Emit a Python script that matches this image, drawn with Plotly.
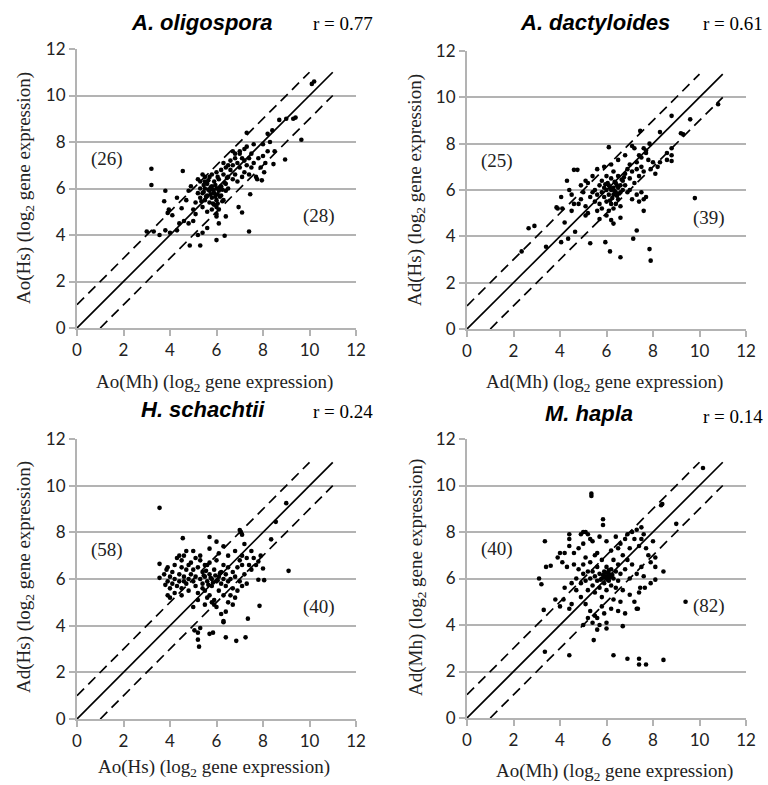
import plotly.graph_objects as go

# ---------------- data ----------------
titles = ["A. oligospora", "A. dactyloides", "H. schachtii", "M. hapla"]
r_values = ["r = 0.77", "r = 0.61", "r = 0.24", "r = 0.14"]
x_titles = ["Ao(Mh) (log<sub>2</sub> gene expression)", "Ad(Mh) (log<sub>2</sub> gene expression)",
            "Ao(Hs) (log<sub>2</sub> gene expression)", "Ao(Mh) (log<sub>2</sub> gene expression)"]
y_titles = ["Ao(Hs) (log<sub>2</sub> gene expression)", "Ad(Hs) (log<sub>2</sub> gene expression)",
            "Ad(Hs) (log<sub>2</sub> gene expression)", "Ad(Mh) (log<sub>2</sub> gene expression)"]
counts_above = ["(26)", "(25)", "(58)", "(40)"]
counts_below = ["(28)", "(39)", "(40)", "(82)"]
tick_vals = [0, 2, 4, 6, 8, 10, 12]
diag_x = [0, 11]          # extent of the identity line
fold_offsets = [1, -1]    # 2-fold (log2 = 1) boundaries

p1 = [(10.2,10.6),(10.1,10.5),(9.3,9.0),(9.4,9.05),(8.7,8.95),(9.0,9.0),(9.65,8.1),(8.95,7.25),(8.2,8.35),(8.4,8.5),
      (7.3,8.4),(7.6,7.9),(8.0,7.9),(8.3,8.0),(8.5,7.6),(8.45,7.05),(8.05,6.7),(7.75,6.4),(7.95,6.35),(7.5,7.5),
      (7.4,7.3),(7.2,7.7),(7.0,7.5),(6.7,7.6),(6.8,7.3),(3.2,6.85),(3.2,6.15),(4.55,6.75),(3.8,5.9),(3.75,5.45),
      (3.9,4.95),(4.1,4.85),(3.95,5.1),(4.3,5.6),(4.5,5.15),(3.0,4.15),(3.3,4.15),(3.55,4.0),(3.8,4.2),(4.0,4.1),
      (4.3,4.2),(4.4,4.5),(4.6,4.6),(4.8,4.5),(4.85,3.55),(5.3,3.55),(5.2,4.0),(5.4,4.1),(5.6,4.3),(6.0,3.78),
      (6.35,3.97),(7.4,4.15),(6.1,4.5),(6.0,4.8),(6.4,4.8),(6.95,5.2),(7.1,4.97),(7.45,5.75),(5.0,5.1),(5.1,4.9),
      (5.0,4.6),(4.7,5.5),(4.8,5.9),(4.9,6.1),(5.2,6.4),(5.3,6.3),(5.4,6.6),(5.5,6.5),
      (5.3,5.6),(5.4,5.8),(5.5,5.5),(5.5,6.0),(5.6,5.7),(5.6,6.2),(5.7,5.9),(5.7,5.4),(5.8,6.1),(5.8,5.6),
      (5.9,5.8),(5.9,6.3),(6.0,6.0),(6.0,5.5),(6.0,5.2),(6.1,5.9),(6.1,6.4),(6.2,5.7),(6.2,6.1),(6.3,5.5),
      (6.3,6.6),(6.4,6.2),(6.4,5.9),(6.5,6.5),(6.5,6.0),(5.4,5.2),(5.6,5.0),(5.8,5.1),(5.9,5.3),(6.0,4.9),
      (6.1,5.1),(5.2,5.8),(5.3,6.0),(5.5,6.3),(5.7,6.5),(5.8,6.6),(6.0,6.7),(6.2,6.8),(5.1,5.4),(5.65,5.95),
      (5.75,6.05),(5.85,5.95),(5.95,6.15),(6.05,5.75),(6.15,5.65),(5.45,5.85),(5.55,5.65),(6.25,5.95),(6.35,6.25),(6.05,5.35),
      (6.6,6.8),(6.7,7.0),(6.8,6.6),(6.9,7.1),(7.0,6.9),(7.1,7.3),(7.2,6.7),(7.3,7.0),(7.4,6.6),(6.6,7.2),
      (6.8,7.5),(7.0,7.6),(7.2,7.2),(6.9,6.3),(7.1,6.5),(7.5,6.9),(7.6,7.1),(7.7,6.5),(6.5,7.0),(6.7,6.4),
      (6.4,6.9),(6.3,7.1),(7.3,7.8),(7.8,7.3),(8.0,7.4),(8.1,7.1),(7.9,6.9),(8.2,7.6),
      (5.35,5.45),(5.45,6.15),(5.65,6.35),(5.85,5.35),(5.95,5.65),(6.15,6.0),(6.25,5.45),(6.45,6.45),(5.75,5.75),(6.05,6.5)]

p2 = [(10.8,9.7),(9.6,9.05),(8.8,9.2),(9.2,8.45),(9.3,8.4),(8.3,8.5),(7.45,8.55),(6.1,7.85),(7.1,7.9),(7.85,8.0),
      (7.7,7.7),(8.8,7.5),(8.8,7.25),(8.6,7.6),(4.75,6.87),(4.6,6.87),(4.3,6.4),(9.8,5.65),(4.05,5.7),(3.85,5.25),
      (2.65,4.35),(2.9,4.45),(2.35,3.35),(3.4,3.55),(4.05,3.75),(4.35,3.9),(4.65,4.2),(5.3,3.7),(5.95,3.75),(6.15,3.35),
      (6.6,3.1),(7.3,4.25),(7.15,3.9),(7.85,3.45),(7.9,2.95),(7.6,5.1),(4.2,4.6),(5.1,4.9),(5.7,4.75),(6.3,4.55),
      (6.6,4.8),(4.4,6.0),(4.5,5.8),(4.6,5.4),(4.9,6.2),(3.9,5.2),(4.5,5.1),(4.1,5.2),
      (5.3,5.7),(5.4,5.9),(5.5,6.0),(5.5,5.5),(5.6,5.8),(5.7,6.2),(5.7,5.4),(5.8,5.9),(5.8,6.4),(5.9,5.7),
      (5.9,6.1),(6.0,6.0),(6.0,5.5),(6.0,6.6),(6.1,6.2),(6.1,5.8),(6.2,6.0),(6.2,5.4),(6.2,6.5),(6.3,6.1),
      (6.3,5.8),(6.3,6.8),(6.4,6.3),(6.4,5.9),(6.5,6.1),(6.5,6.6),(6.5,5.6),(6.6,6.2),(6.6,5.9),(6.7,6.4),
      (6.7,6.0),(6.8,6.7),(6.8,6.2),(6.9,5.9),(6.9,6.9),(7.0,6.5),(7.0,7.1),(7.1,6.8),(7.2,6.3),(7.3,6.9),
      (7.3,7.2),(7.4,6.6),(7.5,7.0),(7.5,7.4),(7.6,6.8),(7.7,7.6),(7.8,7.3),(7.6,7.8),(7.9,6.9),(8.0,7.2),
      (8.2,7.0),(6.1,5.1),(6.3,5.2),(6.0,4.9),(5.8,5.2),(6.4,5.4),(6.6,5.3),(6.2,4.7),(5.6,5.1),(5.2,6.3),
      (5.0,5.9),(5.1,6.4),(4.9,5.6),(5.1,5.3),(4.8,5.4),(5.4,6.6),(5.6,6.9),(5.9,7.0),(6.2,7.1),(6.5,7.3),
      (6.8,7.5),(7.2,7.8),(7.4,7.5),(5.2,5.0),(7.0,6.0),(7.1,5.6),(7.3,5.8),(7.4,5.5),(7.5,5.9),(7.6,5.6),
      (7.7,5.7),(8.1,6.7),(8.3,7.2),(8.6,7.3),(8.8,7.8),(6.25,6.05),(6.35,5.95),(6.45,6.2),(6.15,6.1),(6.05,6.3),
      (6.35,6.35),(6.55,5.85),(6.25,5.65),(5.95,6.25),(6.75,6.55),(6.45,5.75),(6.65,6.45),(6.15,5.55)]

p3 = [(3.55,9.05),(9.1,6.35),(8.55,8.45),(9.0,9.25),(7.0,8.1),(7.1,7.9),(7.05,8.0),(4.55,7.75),(5.7,7.8),(8.35,7.7),
      (7.85,4.85),(7.35,4.3),(6.4,4.6),(6.3,4.15),(5.05,3.8),(5.2,3.7),(5.3,3.9),(5.2,3.4),(5.25,3.1),(5.7,3.65),
      (5.85,3.7),(6.4,3.5),(6.85,3.35),(7.25,3.5),(3.55,6.65),(3.9,6.5),(3.55,6.05),(3.8,5.75),(3.9,5.3),(8.05,5.95),
      (7.8,5.97),(8.0,6.45),(7.8,6.75),
      (3.9,5.9),(4.0,6.1),(4.0,5.6),(4.1,6.3),(4.1,5.8),(4.2,6.0),(4.2,6.6),(4.3,5.7),(4.3,6.9),(4.4,6.2),
      (4.4,5.9),(4.5,6.5),(4.5,5.6),(4.6,6.1),(4.6,7.0),(4.7,5.8),(4.7,6.4),(4.8,6.0),(4.8,5.5),(4.9,6.7),
      (4.9,6.2),(5.0,5.9),(5.0,6.4),(5.1,5.7),(5.1,6.1),(5.2,6.5),(5.2,5.4),(5.3,6.0),(5.3,6.8),(5.4,5.8),
      (5.4,6.3),(5.5,6.1),(5.5,5.5),(5.6,5.9),(5.6,6.6),(5.7,6.2),(5.7,5.3),(5.8,6.0),(5.8,5.7),(5.9,6.4),
      (5.9,5.1),(6.0,5.9),(6.0,6.8),(6.1,6.1),(6.1,5.5),(6.2,6.3),(6.2,5.8),(6.3,6.0),(6.3,6.6),(6.4,5.7),
      (6.4,6.2),(6.5,6.5),(6.5,5.9),(6.6,6.0),(6.6,5.3),(6.7,6.3),(6.7,5.6),(6.8,6.1),(6.9,6.5),(7.0,5.9),
      (7.0,6.8),(7.2,6.2),(7.4,6.6),(7.3,5.8),(5.6,5.2),(5.8,5.0),(5.5,4.9),(6.0,4.8),(5.7,7.3),(6.0,7.6),
      (6.3,7.4),(6.5,7.0),(6.8,7.2),(5.0,7.2),(5.3,7.0),(4.7,7.2),(4.4,7.0),(4.5,6.8),(5.5,6.6),(6.3,5.3),
      (6.5,5.0),(6.7,4.9),(6.8,5.2),(5.2,5.1),(5.0,4.8),(4.5,5.3),(4.2,5.4),(4.0,5.2),(3.85,6.4),(3.75,6.2),
      (6.2,4.5),(6.3,4.2),(5.9,4.9),(7.1,7.0),(7.2,7.5),(7.5,7.2),(7.6,6.9),(7.9,7.0),(7.5,6.4),(7.7,6.6),
      (7.1,6.6),(7.3,6.9),(5.7,6.7),(6.1,7.1),(5.1,6.9),(4.8,6.6),(4.6,5.9),(5.4,5.6),(6.9,5.5),(7.1,5.7),
      (5.95,6.15),(5.85,5.85),(5.75,6.05),(5.65,5.75),(6.05,5.95),(6.15,6.25),(5.55,6.35),(5.45,6.15)]

p4 = [(10.15,10.75),(5.35,9.65),(5.35,9.55),(8.4,9.2),(8.35,9.15),(9.0,8.35),(5.85,8.55),(5.85,8.3),(3.35,7.6),(4.4,7.9),
      (4.4,7.7),(5.0,8.0),(3.1,6.0),(3.2,5.75),(3.4,6.5),(3.6,6.55),(4.0,7.1),(3.3,4.65),(4.15,5.1),(4.4,4.7),
      (3.35,2.85),(4.4,2.7),(6.3,2.7),(6.9,2.55),(7.4,2.55),(7.4,2.3),(7.7,2.3),(8.45,2.5),(5.45,3.35),(6.0,3.85),
      (6.7,3.95),(7.35,4.7),(9.4,5.0),(8.45,6.3),(8.1,5.95),(7.9,5.8),(7.45,5.6),(7.65,5.6),(7.5,8.2),(7.5,7.7),
      (8.0,7.6),(8.1,6.9),
      (4.6,6.6),(4.7,6.0),(4.8,6.4),(4.9,5.8),(5.0,6.6),(5.0,6.2),(5.1,5.9),(5.1,6.9),(5.2,6.3),(5.2,5.5),
      (5.3,6.0),(5.3,6.7),(5.4,5.7),(5.4,6.3),(5.5,6.1),(5.5,5.4),(5.5,7.0),(5.6,5.9),(5.6,6.5),(5.7,6.2),
      (5.7,5.6),(5.8,6.0),(5.8,6.8),(5.8,5.2),(5.9,6.3),(5.9,5.8),(6.0,6.1),(6.0,6.5),(6.0,5.5),(6.1,6.2),
      (6.1,5.9),(6.2,6.4),(6.2,5.7),(6.3,6.0),(6.3,6.8),(6.4,6.3),(6.4,5.6),(6.5,6.6),(6.5,5.9),(6.6,6.2),
      (6.7,7.0),(6.7,5.5),(6.8,6.4),(6.9,6.8),(7.0,6.0),(7.0,7.3),(7.1,6.6),(7.2,7.7),(7.3,6.2),(6.8,7.7),
      (6.6,7.5),(6.4,7.8),(6.0,7.6),(5.7,7.8),(5.4,7.6),(5.2,7.9),(5.0,7.5),(4.8,7.3),(4.6,7.1),(4.4,7.4),
      (4.2,7.1),(3.9,6.9),(4.1,6.7),(4.3,6.5),(4.5,5.8),(4.7,5.5),(4.9,5.2),(5.1,4.9),(5.3,4.6),(5.5,4.4),
      (5.4,4.1),(5.6,4.3),(5.7,4.0),(5.8,4.8),(5.9,4.5),(5.6,3.8),(6.0,4.1),(6.2,4.7),(6.3,5.1),(6.5,4.6),
      (6.6,5.0),(6.8,4.5),(7.0,5.3),(7.2,5.0),(7.3,4.7),(7.4,5.4),(7.5,6.5),(7.6,6.1),(7.8,7.0),(7.9,6.7),
      (8.1,6.5),(7.7,7.3),(7.4,7.4),(7.6,7.9),(7.3,8.1),(7.1,8.0),(6.9,7.9),(5.1,8.0),(4.9,7.9),(5.3,7.7),
      (5.6,7.1),(6.2,7.2),(6.5,7.3),(4.5,4.9),(4.2,5.6),(3.8,5.1),(4.0,4.8),(5.0,4.0),(5.2,4.3),(5.95,6.25),
      (6.05,5.95),(5.85,6.15),(6.15,6.05),(5.75,5.95),(6.25,6.15),(6.1,6.35),(5.9,6.05)]

panels = [p1, p2, p3, p4]

# ---------------- layout geometry ----------------
W, H = 768, 785
x_domains = [[77/W, 356/W], [467/W, 746/W], [77/W, 356/W], [467/W, 746/W]]
y_domains = [[1-328/H, 1-49/H], [1-329/H, 1-51/H], [1-719/H, 1-439/H], [1-718/H, 1-439/H]]
title_pos = [(202, 23), (595, 23), (203, 409), (589, 413)]
r_pos = [(375, 24), (765, 24), (375, 411), (765, 416)]
xt_pos = [(214, 383), (604, 383), (214, 768), (614, 772)]
yt_pos = [(25, 188), (416, 190), (25, 577), (417, 578)]

GRID = "#b3b3b3"
SERIF = "Liberation Serif, Times New Roman, serif"
TICKF = "Lato, Open Sans, sans-serif"

fig = go.Figure()
layout = dict(width=W, height=H, margin=dict(l=0, r=0, t=0, b=0, pad=0, autoexpand=False),
              paper_bgcolor="white", plot_bgcolor="white", showlegend=False)
annotations = []

for i, pts in enumerate(panels):
    sfx = "" if i == 0 else str(i + 1)
    xa, ya = "x" + sfx, "y" + sfx
    # reference lines
    fig.add_trace(go.Scatter(x=diag_x, y=diag_x, mode="lines", xaxis=xa, yaxis=ya,
                             line=dict(color="black", width=1.7), hoverinfo="skip"))
    for off in fold_offsets:
        lx = [max(diag_x[0], -off), diag_x[1] - max(off, 0)]
        fig.add_trace(go.Scatter(x=lx, y=[v + off for v in lx], mode="lines", xaxis=xa, yaxis=ya,
                                 line=dict(color="black", width=1.7, dash="10px,6px"), hoverinfo="skip"))
    fig.add_trace(go.Scatter(x=[p[0] for p in pts], y=[p[1] for p in pts], mode="markers",
                             xaxis=xa, yaxis=ya, marker=dict(color="black", size=4.6)))
    axis_common = dict(range=[0, 12], tickvals=tick_vals, zeroline=False, showline=True,
                       linecolor=GRID, linewidth=2, ticks="outside", ticklen=6, tickcolor=GRID,
                       tickwidth=2, automargin=False, fixedrange=True,
                       tickfont=dict(family=TICKF, size=17, color="#222"))
    layout["xaxis" + sfx] = dict(domain=x_domains[i], anchor=ya, showgrid=False, **axis_common)
    layout["yaxis" + sfx] = dict(domain=y_domains[i], anchor=xa, showgrid=True, gridcolor=GRID,
                                 gridwidth=2, **axis_common)
    # titles and labels
    annotations.append(dict(text="<b><i>" + titles[i] + "</i></b>", x=title_pos[i][0] / W, y=1 - title_pos[i][1] / H,
                            xref="paper", yref="paper", showarrow=False, xanchor="center", yanchor="middle",
                            font=dict(family="Liberation Sans, Arial, sans-serif", size=22, color="black")))
    annotations.append(dict(text=r_values[i], x=r_pos[i][0] / W, y=1 - r_pos[i][1] / H,
                            xref="paper", yref="paper", showarrow=False, xanchor="right", yanchor="middle",
                            font=dict(family=SERIF, size=19, color="black")))
    annotations.append(dict(text=x_titles[i], x=xt_pos[i][0] / W, y=1 - xt_pos[i][1] / H,
                            xref="paper", yref="paper", showarrow=False, xanchor="center", yanchor="middle",
                            font=dict(family=SERIF, size=19, color="#222")))
    annotations.append(dict(text=y_titles[i], x=yt_pos[i][0] / W, y=1 - yt_pos[i][1] / H, textangle=-90,
                            xref="paper", yref="paper", showarrow=False, xanchor="center", yanchor="middle",
                            font=dict(family=SERIF, size=19, color="#222")))
    annotations.append(dict(text=counts_above[i], x=1.3, y=7.25, xref=xa, yref=ya, showarrow=False,
                            font=dict(family=SERIF, size=19, color="#222")))
    annotations.append(dict(text=counts_below[i], x=10.4, y=4.8, xref=xa, yref=ya, showarrow=False,
                            font=dict(family=SERIF, size=19, color="#222")))

layout["annotations"] = annotations
fig.update_layout(**layout)
fig.write_html("out.html", config={"displayModeBar": False, "staticPlot": True},
               post_script="document.body.style.margin='0px';document.body.style.overflow='hidden';")
